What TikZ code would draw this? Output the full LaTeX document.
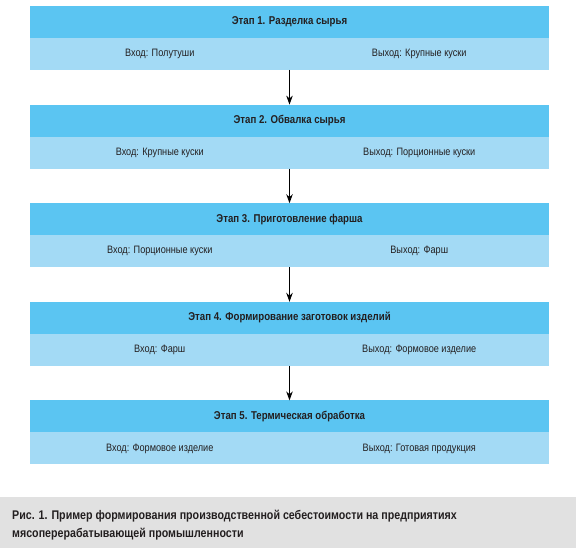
\documentclass[tikz,border=0pt]{standalone}
\usepackage{fontspec}
\setmainfont{Liberation Sans}[FakeStretch=0.85]
\usepackage{tikz}
\usetikzlibrary{arrows.meta, positioning}
\definecolor{stagecyan}{RGB}{91, 197, 242}
\definecolor{flowcyan}{RGB}{163, 218, 245}
\definecolor{capgray}{RGB}{225, 225, 225}
\definecolor{inktext}{RGB}{35, 31, 32}

\begin{document}
\begin{tikzpicture}[x=1bp, y=-1bp, node distance=34.6bp,
  stagehead/.style={fill=stagecyan, minimum width=519bp, minimum height=32bp, inner sep=0pt,
    outer sep=0pt, font=\fontsize{11.4}{13}\selectfont\bfseries, text=inktext},
  stageflow/.style={fill=flowcyan, minimum width=519bp, minimum height=32bp, inner sep=0pt,
    outer sep=0pt},
  flowtext/.style={font=\fontsize{10.8}{12}\selectfont, text=inktext, inner sep=1pt,
    text height=8bp, text depth=2.5bp},
  stagearrow/.style={-{Stealth[length=9bp, width=6.5bp]}, line width=0.9bp, black}]
  \useasboundingbox (0,0) rectangle (576,548);

  % Stage 1
  \node[stagehead, anchor=north] (h1) at (289.5, 6) {Этап 1. Разделка сырья};
  \node[stageflow, below=0pt of h1] (s1) {};
  \node[flowtext] (in1) at ([xshift=-129.75bp]s1.center) {Вход: Полутуши};
  \node[flowtext] (out1) at ([xshift=129.75bp]s1.center) {Выход: Крупные куски};

  % Stage 2
  \node[stagehead, below=of s1] (h2) {Этап 2. Обвалка сырья};
  \node[stageflow, below=0pt of h2] (s2) {};
  \node[flowtext] (in2) at ([xshift=-129.75bp]s2.center) {Вход: Крупные куски};
  \node[flowtext] (out2) at ([xshift=129.75bp]s2.center) {Выход: Порционные куски};

  % Stage 3
  \node[stagehead, below=of s2] (h3) {Этап 3. Приготовление фарша};
  \node[stageflow, below=0pt of h3] (s3) {};
  \node[flowtext] (in3) at ([xshift=-129.75bp]s3.center) {Вход: Порционные куски};
  \node[flowtext] (out3) at ([xshift=129.75bp]s3.center) {Выход: Фарш};

  % Stage 4
  \node[stagehead, below=of s3] (h4) {Этап 4. Формирование заготовок изделий};
  \node[stageflow, below=0pt of h4] (s4) {};
  \node[flowtext] (in4) at ([xshift=-129.75bp]s4.center) {Вход: Фарш};
  \node[flowtext] (out4) at ([xshift=129.75bp]s4.center) {Выход: Формовое изделие};

  % Stage 5
  \node[stagehead, below=of s4] (h5) {Этап 5. Термическая обработка};
  \node[stageflow, below=0pt of h5] (s5) {};
  \node[flowtext] (in5) at ([xshift=-129.75bp]s5.center) {Вход: Формовое изделие};
  \node[flowtext] (out5) at ([xshift=129.75bp]s5.center) {Выход: Готовая продукция};

  % Arrows between stages
  \draw[stagearrow] (s1.south) -- (h2.north);
  \draw[stagearrow] (s2.south) -- (h3.north);
  \draw[stagearrow] (s3.south) -- (h4.north);
  \draw[stagearrow] (s4.south) -- (h5.north);

  % Caption
  \fill[capgray] (0,497) rectangle (576,548);
  \node[anchor=west, align=left, text=inktext, inner sep=0pt,
    font=\fontsize{12.6}{18}\selectfont\bfseries] (cap) at (12, 525)
    {Рис. 1. Пример формирования производственной себестоимости на предприятиях\\
     мясоперерабатывающей промышленности};
\end{tikzpicture}
\end{document}
